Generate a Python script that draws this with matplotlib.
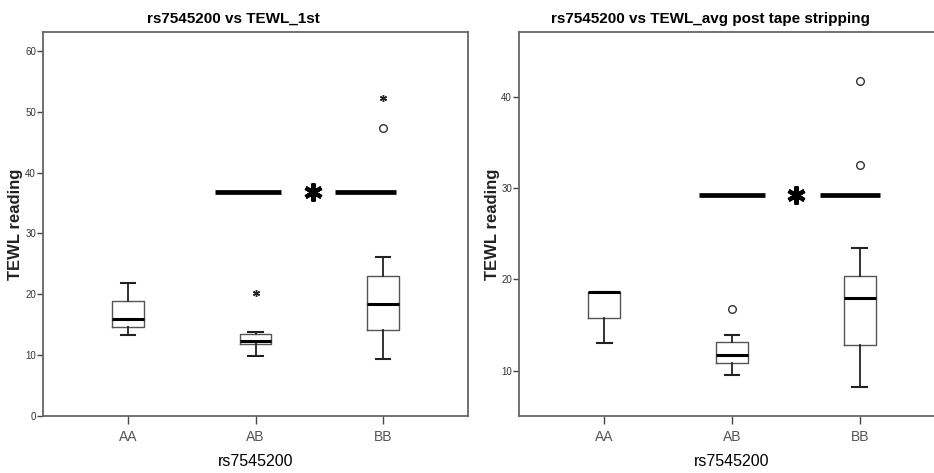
import matplotlib
matplotlib.use('Agg')
import matplotlib.pyplot as plt
from matplotlib import font_manager

names = set(f.name for f in font_manager.fontManager.ttflist)
narrow = 'Liberation Sans Narrow' if 'Liberation Sans Narrow' in names else 'Liberation Sans'
plt.rcParams['font.family'] = [narrow, 'DejaVu Sans']

groups = ['AA', 'AB', 'BB']

# rs7545200 vs TEWL_1st
first_whislo = [13.3, 9.9, 9.4]
first_q1 = [14.7, 11.8, 14.1]
first_med = [16.0, 12.4, 18.4]
first_q3 = [18.95, 13.4, 23.0]
first_whishi = [21.9, 13.8, 26.1]
first_circles = [[], [], [47.4]]
first_extremes = [[], [20.2], [52.3]]
first_sig_y = 36.8
first_sig_bars = [(1.68, 2.20), (2.625, 3.10)]
first_sig_star = 2.45

# rs7545200 vs TEWL_avg post tape stripping
avg_whislo = [13.0, 9.5, 8.2]
avg_q1 = [15.8, 10.8, 12.8]
avg_med = [18.6, 11.7, 18.0]
avg_q3 = [18.6, 13.2, 20.4]
avg_whishi = [18.6, 13.9, 23.4]
avg_circles = [[], [16.8], [41.7, 32.5]]
avg_extremes = [[], [], []]
avg_sig_y = 29.2
avg_sig_bars = [(1.74, 2.26), (2.69, 3.16)]
avg_sig_star = 2.50

W, H = 934, 473
fig = plt.figure(figsize=(W / 100, H / 100), dpi=100)


def draw_panel(rect, whislo, q1, med, q3, whishi, circles, extremes,
               sig_y, sig_bars, sig_star, ylim, yticks, title, title_x, ylab_x):
    ax = fig.add_axes(rect)
    stats = []
    for i in range(len(groups)):
        stats.append(dict(whislo=whislo[i], q1=q1[i], med=med[i], q3=q3[i],
                          whishi=whishi[i], fliers=[]))
    pos = list(range(1, len(groups) + 1))
    ax.bxp(stats, positions=pos, widths=0.25, capwidths=0.115, showfliers=False,
           boxprops=dict(color='#555555', linewidth=1.0),
           medianprops=dict(color='black', linewidth=2.2),
           whiskerprops=dict(color='#222222', linewidth=1.3),
           capprops=dict(color='#222222', linewidth=1.5))
    for i, p in enumerate(pos):
        if circles[i]:
            ax.plot([p] * len(circles[i]), circles[i], 'o', ms=5.5, mfc='white',
                    mec='#333333', mew=1.0)
        if extremes[i]:
            ax.plot([p] * len(extremes[i]), extremes[i], ls='none', marker=(6, 2, 0),
                    ms=5, mec='#222222', mew=1.0)
    for a, b in sig_bars:
        ax.plot([a, b], [sig_y, sig_y], color='black', linewidth=3.4,
                solid_capstyle='butt')
    ax.plot([sig_star], [sig_y], ls='none', marker=(6, 2, 0), ms=13, mec='black', mew=3.0)

    ax.set_xlim(1 / 3, 11 / 3)
    ax.set_ylim(*ylim)
    ax.set_xticks(pos)
    ax.set_xticklabels(groups, fontsize=10, color='#555555')
    ax.set_yticks(yticks)
    ax.set_yticklabels([str(t) for t in yticks], fontsize=7, color='#333333')
    ax.tick_params(axis='x', length=6, width=1.0, color='#444444', pad=4)
    ax.tick_params(axis='y', length=4, width=1.0, color='#444444', pad=1)
    for s in ax.spines.values():
        s.set_color('#666666')
        s.set_linewidth(1.3)
    ax.set_xlabel('rs7545200', fontsize=11.5, labelpad=7)
    fig.text(title_x / W, 1 - 19 / H, title, fontsize=11, fontweight='bold',
             ha='center', va='center')
    fig.text(ylab_x / W, 1 - 224 / H, 'TEWL reading', fontsize=12,
             fontweight='bold', rotation=90, ha='center', va='center', color='#222222')
    return ax


top = 1 - 32 / H
bottom = 1 - 416 / H
draw_panel([43 / W, bottom, (468 - 43) / W, top - bottom],
           first_whislo, first_q1, first_med, first_q3, first_whishi,
           first_circles, first_extremes, first_sig_y, first_sig_bars, first_sig_star,
           (0, 63.1), [0, 10, 20, 30, 40, 50, 60],
           'rs7545200 vs TEWL_1st', 233.7, 16)
draw_panel([519 / W, bottom, (945 - 519) / W, top - bottom],
           avg_whislo, avg_q1, avg_med, avg_q3, avg_whishi,
           avg_circles, avg_extremes, avg_sig_y, avg_sig_bars, avg_sig_star,
           (5.04, 47.1), [10, 20, 30, 40],
           'rs7545200 vs TEWL_avg post tape stripping', 710.7, 492)

fig.savefig('out.png', dpi=100)
